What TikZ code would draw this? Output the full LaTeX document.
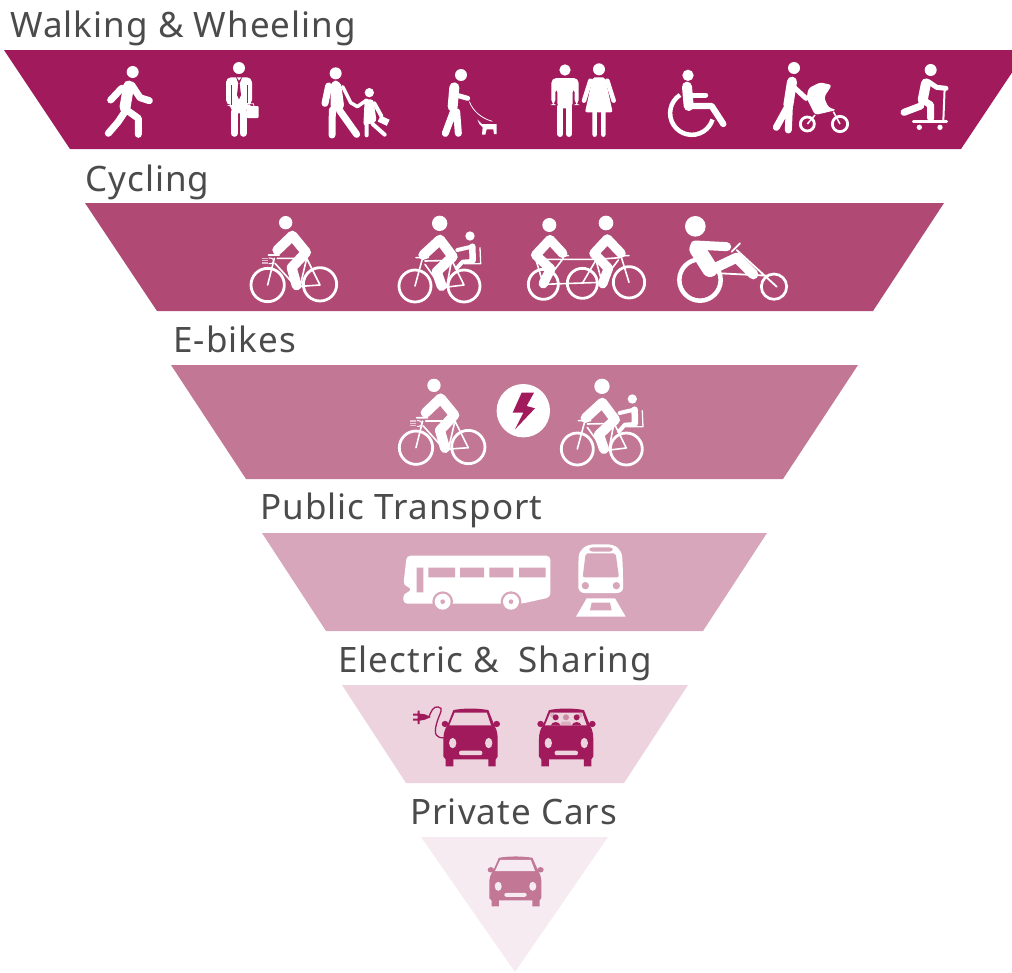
\documentclass[tikz,border=0pt]{standalone}
\usepackage{fontspec}
\setmainfont[LetterSpace=3]{Noto Sans}
\definecolor{walkcol}{HTML}{A01A5C}
\definecolor{cyclecol}{HTML}{B04A75}
\definecolor{ebikecol}{HTML}{C27794}
\definecolor{transitcol}{HTML}{D7A6BA}
\definecolor{sharecol}{HTML}{ECD3DE}
\definecolor{carcol}{HTML}{F6EBF0}
\definecolor{labelcol}{HTML}{4B4B4B}
\tikzset{
  heading/.style={anchor=base west,inner sep=0pt,text=labelcol,font=\fontsize{35}{38}\selectfont},
  limb/.style={draw=white,line cap=round,line join=round,line width=#1},
  limb/.default=7pt,
  ink/.style={fill=white},
  pics/bike/.style={code={
    \draw[limb=2.8pt] (83,240) circle[radius=50] (240,238) circle[radius=50];
    \draw[limb=1.6pt] (85,150) -- (118,150) (112,160) -- (200,160) (103,160) -- (83,240)
      (105,175) -- (168,245) -- (240,240) -- (200,160) -- (180,245);
    \fill[ink] (137,53) circle[radius=20];
    \draw[limb=10pt] (112,135) -- (157,92) -- (198,142) -- (155,188) -- (170,241);
  }},
  pics/lamp/.style={code={
    \draw[draw=white,opacity=.6,line width=1.1pt] (65,160) -- (84,160) (65,167) -- (84,167) (65,174) -- (84,174);
    \draw[draw=white,line width=1pt] (86,159) -- (92,159) arc[start angle=-90,end angle=90,radius=8.5] -- (86,176);
  }},
  pics/childbike/.style={code={
    \draw[limb=2.8pt] (525,243) circle[radius=48] (672,243) circle[radius=48];
    \draw[limb=1.6pt] (528,158) -- (565,158) (555,168) -- (640,166) (548,158) -- (525,243)
      (555,178) -- (605,248) -- (672,240) -- (635,165) -- (620,245);
    \fill[ink] (599,55) circle[radius=23];
    \draw[limb=10pt] (550,150) -- (600,104) -- (638,155) -- (590,200) -- (605,243);
    \fill[ink] (690,93) circle[radius=14];
    \draw[limb=4pt] (652,135) -- (695,125);
    \draw[limb=6.5pt] (697,125) -- (698,166);
    \draw[limb=4pt] (698,168) -- (668,170) -- (650,190);
    \draw[limb=1.3pt] (720,128) -- (722,176) -- (672,176);
  }},
  pics/car/.style n args={3}{code={
    \fill[#1] (-52,6) .. controls (-20,0) and (20,0) .. (53,6) -- (71,50)
      .. controls (80,65) and (81,80) .. (81,90) -- (81,140) -- (75,148) -- (75,168) -- (53,168) -- (53,148)
      -- (-52,148) -- (-52,168) -- (-75,168) -- (-75,148) -- (-82,140) -- (-82,90)
      .. controls (-82,75) and (-78,60) .. (-70,50) -- cycle;
    \fill[#1] (-77,46) ellipse[x radius=10,y radius=9] (78,46) ellipse[x radius=10,y radius=9];
    \fill[#2] (-48,13) -- (48,13) -- (61,50) -- (-64,50) -- cycle;
    \fill[#3] (-54,101) ellipse[x radius=11,y radius=15] (54,101) ellipse[x radius=11,y radius=15];
    \fill[#3,rounded corners=2pt] (-35,123) rectangle (35,136);
  }}
}
\begin{document}
\begin{tikzpicture}[x=1pt,y=-1pt]
\useasboundingbox (0,0) rectangle (1012,972);

\fill[walkcol] (4,50) -- (1012,50) -- (1012,72.5) -- (961,149) -- (70,149) -- cycle;
\fill[cyclecol] (85,203) -- (944,203) -- (873,311) -- (157,311) -- cycle;
\fill[ebikecol] (171,365) -- (858,365) -- (783,479) -- (246,479) -- cycle;
\fill[transitcol] (262,533) -- (767,533) -- (703,631) -- (326,631) -- cycle;
\fill[sharecol] (342,685) -- (688,685) -- (624,783) -- (406,783) -- cycle;
\fill[carcol] (421,837) -- (608,837) -- (515,972) -- cycle;

\node[heading] (walking) at (10,37) {Walking \& Wheeling};
\node[heading] (cycling) at (85,191) {Cycling};
\node[heading] (ebikes) at (173,352) {E-bikes};
\node[heading] (transport) at (260,519) {Public Transport};
\node[heading] (sharing) at (338,672) {Electric \& \kern9pt Sharing};
\node[heading] (cars) at (410,824) {Private Cars};

% walking
\begin{scope}[shift={(90,50)},scale=1/3]
  % walker
  \fill[ink] (128,66) circle[radius=18];
  \draw[limb=11pt] (116,108) -- (105,172);
  \draw[limb] (95,115) -- (62,150) (125,105) -- (150,143) -- (178,152)
    (105,185) -- (85,215) -- (55,250) (110,180) -- (145,205) -- (145,253);
  % suit
  \fill[ink] (447,54) circle[radius=18];
  \fill[ink,rounded corners=5pt] (408,82) -- (486,82) -- (486,165) -- (470,165) -- (470,190) -- (425,190) -- (425,165) -- (408,165) -- cycle;
  \draw[limb] (433,185) -- (433,250) (460,185) -- (460,250);
  \draw[walkcol,line width=.8pt] (424,105) -- (424,165) (471,105) -- (471,160);
  \fill[walkcol] (437,78) -- (445,100) -- (441,135) -- (447,148) -- (453,135) -- (449,100) -- (458,78) -- (447,92) -- cycle;
  \fill[ink,rounded corners=1pt] (470,168) rectangle (506,204);
  \draw[draw=white,line width=.8pt] (476,168) -- (478,161) -- (490,161) -- (492,168);
  % parent and child
  \fill[ink] (737,70) circle[radius=18];
  \fill[ink,rounded corners=6pt] (722,92) -- (752,92) -- (764,180) -- (722,185) -- cycle;
  \draw[limb] (716,108) -- (705,160) (727,180) -- (726,255) (748,180) -- (800,253);
  \draw[draw=white,line width=3.5pt,line cap=round,line join=round] (758,110) -- (782,158) -- (802,170) -- (830,150);
  \fill[ink] (838,128) circle[radius=14];
  \fill[ink,rounded corners=3pt] (824,148) -- (850,148) -- (860,215) -- (820,228) -- cycle;
  \draw[limb=4pt] (853,160) -- (874,198) (830,225) -- (830,256) (848,222) -- (884,254);
  \fill[ink,rotate around={-25:(881,212)}] (866,202) rectangle (896,222);
  % dog walker
  \fill[ink] (1113,75) circle[radius=18];
  \draw[limb=10pt] (1093,112) -- (1088,170);
  \draw[limb=5pt] (1098,135) -- (1133,145);
  \draw[limb] (1092,180) -- (1066,250) (1100,185) -- (1105,250);
  \draw[draw=white,line width=.8pt] (1138,155) .. controls (1150,185) and (1175,205) .. (1207,214);
  \fill[ink] (1162,208) -- (1176,222) -- (1220,222) -- (1220,252) -- (1212,252) -- (1210,238) -- (1190,238) -- (1186,254) -- (1176,254) -- (1178,232) -- (1168,222) -- cycle;
\end{scope}
\begin{scope}[shift={(500,50)},scale=1/3]
  % man and woman
  \fill[ink] (195,60) circle[radius=17];
  \fill[ink,rounded corners=5pt] (154,84) -- (236,84) -- (236,165) -- (224,165) -- (224,112) -- (218,112) -- (218,175) -- (172,175) -- (172,112) -- (166,112) -- (166,165) -- (154,165) -- cycle;
  \draw[limb=6pt] (181,170) -- (181,252) (207,170) -- (207,252);
  \fill[ink] (297,58) circle[radius=18];
  \fill[ink,rounded corners=2pt] (278,82) -- (315,82) -- (338,187) -- (255,187) -- cycle;
  \draw[limb=4.5pt] (271,92) -- (252,152) (322,92) -- (341,152) (284,185) -- (284,254) (310,185) -- (310,254);
  % wheelchair
  \fill[ink] (564,76) circle[radius=17];
  \draw[limb=10pt] (561,110) -- (566,168);
  \draw[limb=5pt] (566,135) -- (617,135);
  \draw[limb=6.3pt] (566,168) -- (635,168) -- (670,222);
  \draw[draw=white,line width=4.5pt] (540,135) arc[start angle=237,end angle=17,radius=65];
  % stroller
  \fill[ink] (882,54) circle[radius=18];
  \draw[limb=10pt] (876,95) -- (865,165);
  \draw[limb=5pt] (880,110) -- (918,145);
  \draw[limb] (862,172) -- (829,232) (868,172) -- (865,240);
  \fill[ink,rounded corners=3pt] (925,115) -- (960,97) -- (996,105) -- (972,142) -- (985,172) -- (1010,180) -- (945,195) -- (920,145) -- cycle;
  \draw[draw=white,line width=2.8pt] (922,222) circle[radius=21] (1020,222) circle[radius=23];
  \draw[draw=white,line width=1.5pt] (945,195) -- (922,222) (1000,185) -- (1020,222);
  % scooter
  \fill[ink] (1292,60) circle[radius=18];
  \draw[limb=10pt] (1278,100) -- (1268,150);
  \draw[limb=5pt] (1285,95) -- (1310,112) -- (1338,115);
  \draw[limb] (1268,150) -- (1292,165) -- (1292,205) (1262,168) -- (1212,187);
  \draw[limb=2pt] (1334,115) -- (1330,212);
  \draw[limb=3pt] (1240,215) -- (1340,215);
  \fill[ink] (1258,232) circle[radius=8] (1320,232) circle[radius=8];
\end{scope}

% cycling
\pic[scale=1/3] (bikea) at (240,205) {bike};
\pic[scale=1/3] (lampa) at (240,205) {lamp};
\pic[scale=1/3] (bikeb) at (240,205) {childbike};
\begin{scope}[shift={(520,205)},scale=1/3]
  % tandem
  \draw[limb=2.8pt] (70,238) circle[radius=45] (187,235) circle[radius=45] (327,232) circle[radius=47];
  \draw[limb=1.6pt] (125,152) -- (145,152) (305,152) -- (327,152) (75,163) -- (230,163) -- (300,158)
    (48,165) -- (70,238) -- (245,232) -- (295,165) (130,160) -- (70,238)
    (187,235) -- (228,165) -- (248,240) (305,160) -- (327,232);
  \fill[ink] (88,60) circle[radius=21] (258,54) circle[radius=22];
  \draw[limb=9.5pt] (47,150) -- (90,104) -- (128,145) (47,150) -- (92,192) -- (70,236)
    (222,145) -- (262,102) -- (303,145) (222,145) -- (265,190) -- (248,236);
  % recumbent
  \fill[ink] (526,64) circle[radius=31];
  \draw[draw=white,line width=4.5pt] (540,225) circle[radius=62];
  \draw[draw=white,line width=2.7pt] (762,245) circle[radius=38];
  \draw[limb=1.8pt] (635,140) -- (660,115) (650,135) -- (770,245) (600,205) -- (740,212);
  \draw[limb=16pt] (532,132) -- (570,192);
  \draw[limb=9pt] (525,120) -- (620,125);
  \draw[limb=10pt] (572,195) -- (650,158) -- (700,208);
\end{scope}

% e-bikes
\pic[scale=1/3] (bikec) at (388.3,367.7) {bike};
\pic[scale=1/3] (lampc) at (388.3,367.7) {lamp};
\pic[scale=1/3] (biked) at (402.3,368) {childbike};
\fill[white] (523.3,410.7) circle[radius=26.7];
\begin{scope}[shift={(390,370)},scale=1/3]
  \fill[walkcol] (395,68) -- (432,68) -- (410,108) -- (435,115) -- (375,178) -- (400,128) -- (368,128) -- cycle;
\end{scope}

% public transport
\begin{scope}[shift={(395,535)},scale=1/3]
  \fill[ink,rounded corners=4pt] (35,62) -- (466,62) -- (466,187) -- (380,206) -- (25,206) -- (25,175) -- (48,170) -- (48,157) -- (25,152) -- cycle;
  \fill[transitcol] (65,98) rectangle (85,172) (100,98) rectangle (180,127) (195,98) rectangle (267,127)
    (283,98) rectangle (355,127) (372,98) rectangle (452,127);
  \fill[transitcol] (143,200) circle[radius=31] (348,200) circle[radius=31];
  \fill[ink] (143,200) circle[radius=24] (348,200) circle[radius=24];
  \fill[transitcol] (143,200) circle[radius=7] (348,200) circle[radius=7];
  % tram
  \fill[ink,rounded corners=6pt] (550,174) -- (550,85) .. controls (552,45) and (570,28) .. (617,28) .. controls (665,28) and (680,45) .. (683,85) -- (685,174) -- cycle;
  \fill[transitcol,rounded corners=2pt] (572,55) -- (662,55) -- (672,127) -- (563,127) -- cycle;
  \fill[transitcol,rounded corners=3pt] (583,37) rectangle (653,50);
  \fill[transitcol] (571,152) circle[radius=11] (664,152) circle[radius=11];
  \fill[ink] (575,190) -- (660,190) -- (692,245) -- (543,245) -- cycle;
  \fill[transitcol] (590,203) -- (645,203) -- (650,226) -- (585,226) -- cycle;
\end{scope}

% electric and shared cars
\pic[xscale=1/3,yscale=.347] (carplug) at (470.7,708) {car={walkcol}{sharecol}{sharecol}};
\pic[xscale=1/3,yscale=.347] (carshare) at (566.3,708) {car={walkcol}{sharecol}{sharecol}};
\begin{scope}[shift={(405,695)},scale=1/3]
  \draw[walkcol,line width=1.3pt,line cap=round] (118,128) .. controls (95,130) and (85,120) .. (95,85) .. controls (105,50) and (118,40) .. (100,36) .. controls (85,32) and (78,50) .. (72,65) -- (60,68);
  \fill[walkcol] (38,47) rectangle (44,87) (44,56) -- (60,58) -- (78,66) -- (60,74) -- (44,77) -- cycle (24,56) rectangle (40,62) (24,71) rectangle (40,77);
  \fill[ebikecol!85] (483,67) circle[radius=9];
  \fill[ebikecol!60] (470,80) -- (495,80) -- (500,91) -- (466,91) -- cycle;
  \fill[ebikecol!60] (442,60) circle[radius=7] (526,60) circle[radius=7];
  \fill[walkcol] (452,67) circle[radius=9] (515,67) circle[radius=9];
  \fill[walkcol] (438,91) .. controls (440,78) and (464,78) .. (466,91) -- cycle (501,91) .. controls (503,78) and (527,78) .. (529,91) -- cycle;
\end{scope}

% private car
\pic[xscale=.32,yscale=.3] (carprivate) at (515.5,856) {car={ebikecol}{carcol}{carcol}};
\end{tikzpicture}
\end{document}
